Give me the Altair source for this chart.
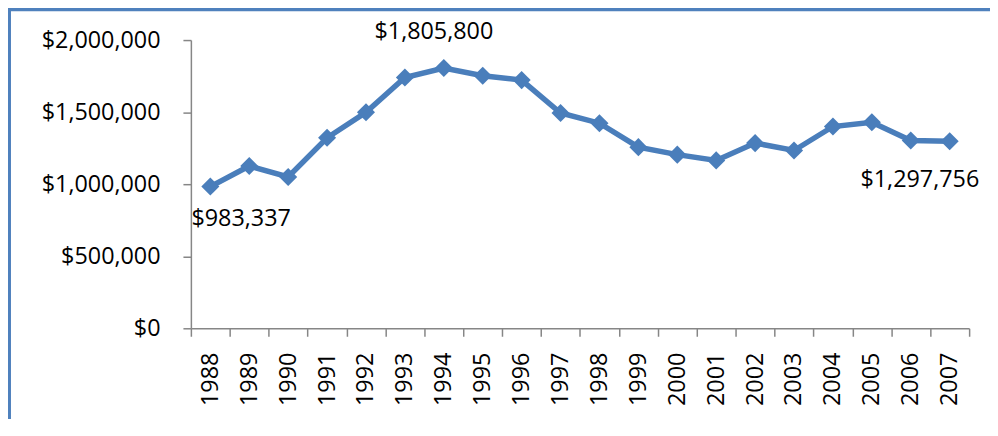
import altair as alt
import pandas as pd

years = ["1988", "1989", "1990", "1991", "1992", "1993", "1994", "1995", "1996", "1997",
         "1998", "1999", "2000", "2001", "2002", "2003", "2004", "2005", "2006", "2007"]
values = [983337, 1126000, 1050000, 1322000, 1499000, 1740000, 1805800, 1752000, 1722000, 1494000,
          1423000, 1257000, 1205000, 1165000, 1285000, 1234000, 1400000, 1430000, 1303000, 1297756]
y_ticks = [0, 500000, 1000000, 1500000, 2000000]

df = pd.DataFrame({"year": years, "value": values})

BLUE = "#4A7EBB"
FONT = "Open Sans"

x_enc = alt.X(
    "year:O",
    sort=years,
    scale=alt.Scale(type="band", paddingInner=0, paddingOuter=0),
    axis=alt.Axis(title=None, labelAngle=-90, tickBand="extent", labelPadding=16),
)
y_enc = alt.Y(
    "value:Q",
    scale=alt.Scale(domain=[0, 2000000], nice=False, zero=True),
    axis=alt.Axis(title=None, values=y_ticks, format="$,.0f", labelPadding=23),
)

base = alt.Chart(df).encode(x=x_enc, y=y_enc)

line = base.mark_line(color=BLUE, strokeWidth=5.5)
points = base.mark_point(shape="diamond", filled=True, size=330, opacity=1, color=BLUE)

def label(year, dx, dy):
    return base.transform_filter(alt.datum.year == year).mark_text(
        font=FONT, fontSize=23.5, color="black", dx=dx, dy=dy, align="center", baseline="middle"
    ).encode(text=alt.Text("value:Q", format="$,.0f"))

lab1 = label("1988", 31, 33)
lab2 = label("1994", -10, -36)
lab3 = label("2007", -30, 39)

frame_df = pd.DataFrame({"frame": [0]})
frame_top = alt.Chart(frame_df).mark_rule(color="#4F81BD", strokeWidth=4).encode(
    x=alt.value(-190), x2=alt.value(820), y=alt.value(-31)
)
frame_left = alt.Chart(frame_df).mark_rule(color="#4F81BD", strokeWidth=4).encode(
    x=alt.value(-183), y=alt.value(-40), y2=alt.value(420)
)

chart = alt.layer(frame_top, frame_left, line, points, lab1, lab2, lab3).properties(
    width=783,
    height=290,
    autosize=alt.AutoSizeParams(type="none"),
    padding={"left": 184, "top": 31, "right": 21, "bottom": 90},
).configure_view(
    stroke="transparent"
).configure_axis(
    grid=False,
    domainColor="#868686",
    domainWidth=1.5,
    tickColor="#868686",
    tickWidth=1.5,
    tickSize=8,
    labelFont=FONT,
    labelFontSize=23.5,
    labelColor="black",
)

chart.save("out.html", embed_options={"renderer": "svg", "actions": False})
